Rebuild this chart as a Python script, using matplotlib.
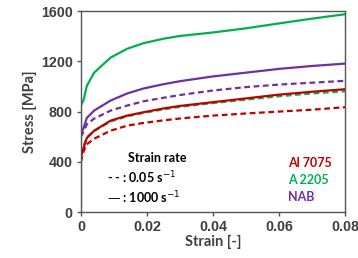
import matplotlib
matplotlib.use('Agg')
import matplotlib.pyplot as plt
from matplotlib.font_manager import FontProperties

strain = [0.0, 0.0008, 0.0018, 0.004, 0.009, 0.014, 0.019, 0.025,
          0.03, 0.04, 0.05, 0.06, 0.07, 0.08]

# stress [MPa]
a2205_fast = [850, 890, 1005, 1110, 1230, 1300, 1345, 1380, 1402, 1430, 1463, 1502, 1540, 1575]
nab_fast = [620, 670, 750, 808, 888, 944, 984, 1018, 1042, 1080, 1110, 1140, 1163, 1182]
nab_slow = [600, 640, 700, 744, 808, 848, 882, 910, 932, 968, 995, 1015, 1030, 1045]
al_fast = [440, 510, 590, 648, 728, 768, 795, 825, 845, 875, 905, 935, 958, 978]
a2205_slow = [460, 520, 595, 645, 722, 762, 790, 818, 838, 868, 895, 922, 945, 962]
al_slow = [400, 485, 540, 584, 648, 688, 710, 730, 745, 768, 785, 800, 815, 835]

RED = '#C00000'
GREEN = '#00B050'
PURPLE = '#7030A0'
LW = 1.6
DASH = (0, (2.6, 1.6))

fig = plt.figure(figsize=(3.58, 2.58), dpi=100)
ax = fig.add_axes([0.226, 0.178, 0.738, 0.779])

# elastic part of the A 2205 curve
ax.plot([0, 0], [0, a2205_fast[0]], color=GREEN, lw=LW)
ax.plot(strain, a2205_slow, color=GREEN, lw=LW, linestyle=DASH)
ax.plot(strain, al_slow, color=RED, lw=LW, linestyle=DASH)
ax.plot(strain, al_fast, color=RED, lw=LW)
ax.plot(strain, nab_slow, color=PURPLE, lw=LW, linestyle=DASH)
ax.plot(strain, nab_fast, color=PURPLE, lw=LW)
ax.plot(strain, a2205_fast, color=GREEN, lw=LW)

ax.set_xlim(0, 0.08)
ax.set_ylim(0, 1600)
ax.set_xticks([0, 0.02, 0.04, 0.06, 0.08])
ax.set_xticklabels(['0', '0.02', '0.04', '0.06', '0.08'])
ax.set_yticks([0, 400, 800, 1200, 1600])

tick_fp = FontProperties(family='Liberation Sans', weight='bold', size=10.3)
for lab in ax.get_xticklabels() + ax.get_yticklabels():
    lab.set_fontproperties(tick_fp)
    lab.set_color('#404040')
ax.tick_params(direction='out', length=3, width=1, color='#555555', pad=3)
for s in ax.spines.values():
    s.set_color('#555555')
    s.set_linewidth(1)

ax.set_xlabel('Strain [-]', family='Lato', weight='bold', size=10.5,
              color='#404040', labelpad=0)
ax.set_ylabel('Stress [MPa]', family='Lato', weight='bold', size=10.5,
              color='#404040', labelpad=3)

txt = dict(family='Lato', weight='bold', size=9, va='center', transform=ax.transAxes)
ax.text(0.178, 0.27, 'Strain rate', color='black', **txt)
ax.text(0.098, 0.17, '- - : 0.05 s$^{-1}$', color='black', **txt)
ax.text(0.098, 0.07, '\u2014 : 1000 s$^{-1}$', color='black', **txt)

ax.text(0.784, 0.244, 'Al 7075', color=RED, **txt)
ax.text(0.784, 0.16, 'A 2205', color=GREEN, **txt)
ax.text(0.784, 0.075, 'NAB', color=PURPLE, **txt)

fig.savefig('out.png', dpi=100)
